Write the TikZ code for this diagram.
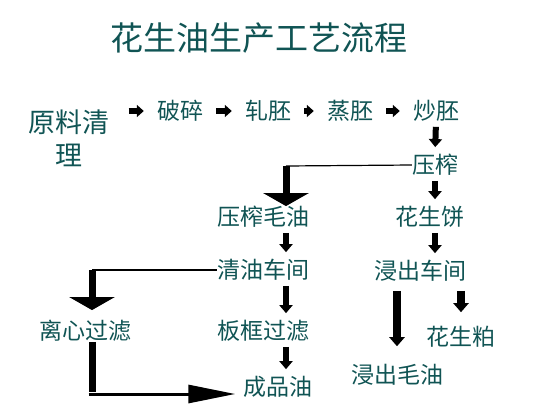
\documentclass[tikz,border=0pt]{standalone}
\usepackage{fontspec}
\newfontfamily\cjk{Noto Sans CJK SC}
\usepackage{tikz}
\usetikzlibrary{positioning,calc,arrows.meta}
\definecolor{oiltext}{RGB}{16,84,84}

\begin{document}
\begin{tikzpicture}[x=1pt, y=-1pt,
  stage/.style={inner sep=0pt, text=oiltext, font=\cjk\fontsize{23}{23}\selectfont},
  harr/.style={line width=5.5pt, -{Triangle[length=7pt, width=12pt]}, shorten <=13pt, shorten >=13pt},
  varr/.style={line width=6pt, -{Triangle[length=8pt, width=13pt]}, shorten <=5pt, shorten >=7pt},
  warr/.style={line width=8pt, -{Triangle[length=9pt, width=15pt]}},
  bigarr/.style={line width=7pt, -{Triangle[length=13pt, width=45pt]}},
  link/.style={line width=1.2pt}]
\useasboundingbox (0, 0) rectangle (533, 405);

\path (259, 38) node[inner sep=0pt, text=oiltext, font=\cjk\fontsize{33}{33}\selectfont] (title) {花生油生产工艺流程};

% first row
\path (69, 138) node[stage, align=center, font=\cjk\fontsize{27}{33}\selectfont] (clean) {原料清\\理};
\path (180, 111) node[stage] (crush) {破碎};
\path (268, 111) node[stage] (roll) {轧胚};
\path (350, 111) node[stage] (steam) {蒸胚};
\path (436, 111) node[stage] (roast) {炒胚};

\path (435, 165) node[stage] (press) {压榨};

\path (263, 217) node[stage] (crude) {压榨毛油};
\path (430, 217) node[stage] (cake) {花生饼};

\path (263, 270) node[stage] (refine) {清油车间};
\path (420, 271) node[stage] (extract) {浸出车间};

\path (85, 331) node[stage] (spin) {离心过滤};
\path (263, 331) node[stage] (frame) {板框过滤};
\path (461, 337) node[stage] (meal) {花生粕};

\path (278, 387) node[stage] (product) {成品油};
\path (397, 375) node[stage] (excrude) {浸出毛油};

\coordinate (k1) at (286, 166);
\coordinate (k2) at (92, 270);
\coordinate (k3) at (92, 394);

\draw[harr, shorten <=19pt] (clean.east |- crush.west) -- (crush.west);
\draw[harr] (crush.east) -- (roll.west);
\draw[harr] (roll.east) -- (steam.west);
\draw[harr] (steam.east) -- (roast.west);

\draw[varr] (roast.south) -- (press.north);
\draw[varr] (press.south) -- (cake.north -| press);
\draw[varr] (crude.south -| k1) -- (refine.north -| k1);
\draw[varr] (cake.south -| press) -- (extract.north -| press);
\draw[varr] (refine.south -| k1) -- (frame.north -| k1);
\draw[varr] (frame.south -| k1) -- (product.north -| k1);

% side branches
\draw[link] (press.west) -- (k1);
\draw[bigarr] (k1) -- (crude.north -| k1);
\draw[link] (refine.west) -- (k2);
\draw[bigarr, shorten >=10pt] (k2) -- (spin.north -| k2);
\draw[line width=7pt] (spin.south -| k3) -- ([yshift=2pt]k3);
\draw[line width=3pt, -{Triangle[length=47pt, width=18pt]}, shorten >=8pt] ([xshift=-3.5pt]k3) -- (product.west |- k3);

\draw[warr, shorten <=9pt, shorten >=18pt] (extract.south -| excrude) -- (excrude.north);
\draw[warr, shorten <=9pt, shorten >=14pt] (extract.south -| meal) -- (meal.north);
\end{tikzpicture}
\end{document}
